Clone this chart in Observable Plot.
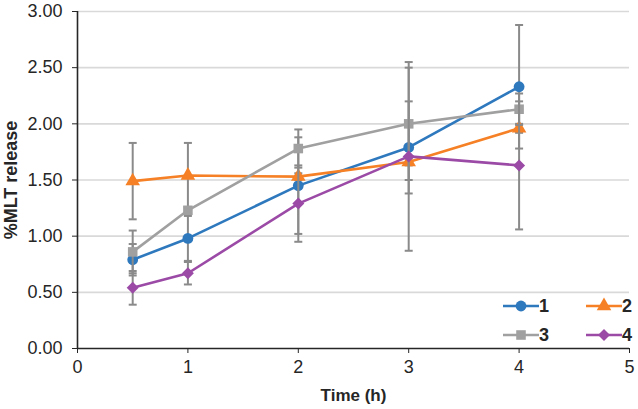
<!DOCTYPE html>
<html>
<head>
<meta charset="utf-8">
<script src="https://cdn.jsdelivr.net/npm/d3@7"></script>
<script src="https://cdn.jsdelivr.net/npm/@observablehq/plot@0.6"></script>
<style>
  html, body { margin: 0; padding: 0; background: #fff; }
  #chart { position: relative; width: 638px; height: 409px; }
</style>
</head>
<body>
<div id="chart"></div>
<script>
// ---- data ----
const times = [0.5, 1, 2, 3, 4];
const seriesNames = ["1", "2", "3", "4"];
const s1 = [0.79, 0.98, 1.45, 1.79, 2.33];
const s2 = [1.49, 1.54, 1.53, 1.66, 1.96];
const s3 = [0.86, 1.23, 1.78, 2.00, 2.13];
const s4 = [0.54, 0.67, 1.29, 1.71, 1.63];
const e1 = [0.14, 0.20, 0.43, 0.41, 0.55];
const e2 = [0.34, 0.29, 0.03, 0.03, 0.04];
const e3 = [0.19, 0.03, 0.17, 0.50, 0.14];
const e4 = [0.15, 0.10, 0.34, 0.84, 0.57];
const yTicks = [0, 0.5, 1, 1.5, 2, 2.5, 3];
const xTicks = [0, 1, 2, 3, 4, 5];

const colors = ["#2E78BE", "#F58025", "#A0A0A0", "#9B4AA6"];
const symbols = ["circle", "triangle", "square", "diamond2"];
const errColor = "#8a8a8a";
const markR = 5.4;

const values = [s1, s2, s3, s4];
const errs = [e1, e2, e3, e4];
const rows = [];
seriesNames.forEach((s, i) => times.forEach((t, j) => rows.push({s, t, v: values[i][j], e: errs[i][j]})));

const capSymbol = { draw(ctx) { ctx.moveTo(-4, 0); ctx.lineTo(4, 0); } };

const marks = [
  Plot.gridY(yTicks.slice(1), {stroke: "#d9d9d9", strokeOpacity: 1, strokeWidth: 1.6}),
];
seriesNames.forEach((s) => {
  const d = rows.filter(r => r.s === s);
  marks.push(
    Plot.ruleX(d, {x: "t", y1: r => r.v - r.e, y2: r => r.v + r.e, stroke: errColor, strokeWidth: 2}),
    Plot.dot(d, {x: "t", y: r => r.v + r.e, symbol: capSymbol, stroke: errColor, strokeWidth: 2, r: 3}),
    Plot.dot(d, {x: "t", y: r => r.v - r.e, symbol: capSymbol, stroke: errColor, strokeWidth: 2, r: 3}),
    Plot.line(d, {x: "t", y: "v", stroke: "s", strokeWidth: 2.6}),
    Plot.dot(d, {x: "t", y: "v", symbol: "s", fill: "s", r: markR})
  );
});
marks.push(
  Plot.ruleY([0], {stroke: "#262626", strokeWidth: 1.6}),
  Plot.ruleX([0], {stroke: "#262626", strokeWidth: 1.6}),
  Plot.axisY({ticks: yTicks, tickFormat: d3.format(".2f"), tickSize: 5, tickPadding: 10, label: null}),
  Plot.axisX({ticks: xTicks, tickFormat: d3.format("d"), tickSize: 5, tickPadding: 7, label: null}),
  Plot.text(["%MLT release"], {frameAnchor: "left", textAnchor: "middle", lineAnchor: "top", rotate: -90, dx: -73, fontWeight: "bold", fontSize: 18}),
  Plot.text(["Time (h)"], {frameAnchor: "bottom", lineAnchor: "bottom", dy: 52, fontWeight: "bold", fontSize: 17})
);

const plot = Plot.plot({
  width: 638,
  height: 409,
  marginLeft: 77,
  marginRight: 9,
  marginTop: 11,
  marginBottom: 61,
  x: {domain: [0, 5]},
  y: {domain: [0, 3]},
  color: {domain: seriesNames, range: colors},
  symbol: {domain: seriesNames, range: symbols},
  style: {fontFamily: "'Liberation Sans', Arial, sans-serif", fontSize: "18px", color: "#262626", background: "#fff"},
  marks
});
document.getElementById("chart").appendChild(plot);

// ---- legend (inside plot area, bottom right) ----
const svg = d3.select(plot);
const leg = svg.append("g").attr("font-family", "'Liberation Sans', Arial, sans-serif")
  .attr("font-size", 18).attr("font-weight", "bold").attr("fill", "#262626");
const legPos = [[503, 306], [586, 306], [503, 335], [586, 335]];
const symMap = {circle: d3.symbolCircle, triangle: d3.symbolTriangle, square: d3.symbolSquare, diamond2: d3.symbolDiamond2};
seriesNames.forEach((s, i) => {
  const [x, y] = legPos[i];
  const g = leg.append("g").attr("transform", `translate(${x},${y})`);
  g.append("line").attr("x1", 0).attr("x2", 36).attr("y1", 0).attr("y2", 0)
    .attr("stroke", colors[i]).attr("stroke-width", 2.6);
  g.append("path").attr("transform", "translate(18,0)")
    .attr("d", d3.symbol(symMap[symbols[i]], Math.PI * markR * markR)()).attr("fill", colors[i]);
  g.append("text").attr("x", 41).attr("y", 0).attr("dy", "0.36em").text(s);
});
</script>
</body>
</html>
